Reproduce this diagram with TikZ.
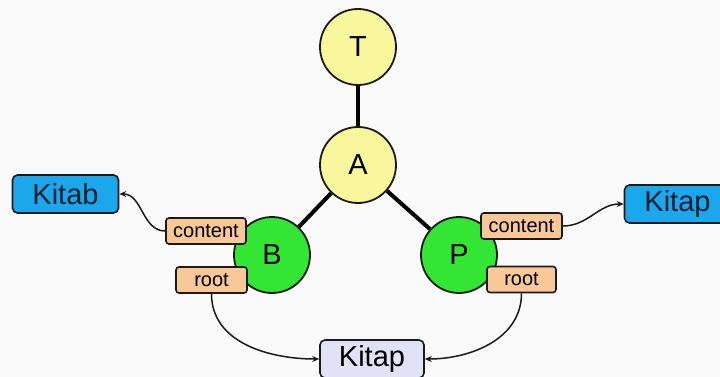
\documentclass[tikz,border=0pt]{standalone}
\usepackage{fontspec}
\setmainfont{Liberation Sans}
\usetikzlibrary{arrows.meta,backgrounds}
\definecolor{cyel}{HTML}{F9F79C}
\definecolor{cgrn}{HTML}{33E633}
\definecolor{corg}{HTML}{F8C898}
\definecolor{cblu}{HTML}{1AA7EC}
\definecolor{clav}{HTML}{E2E2F6}
\definecolor{cline}{HTML}{1A1A1A}
\definecolor{cnavy}{HTML}{0E1E30}
\tikzset{
  vert/.style={circle, draw=cline, line width=1.8pt, minimum size=76pt, inner sep=0pt, font=\fontsize{29}{29}\selectfont},
  yv/.style={vert, fill=cyel},
  gv/.style={vert, fill=cgrn},
  tag/.style={rectangle, rounded corners=3pt, draw=cline, line width=1.6pt, fill=corg, inner sep=0pt, minimum height=26pt, font=\fontsize{20}{20}\selectfont},
  word/.style={rectangle, rounded corners=5pt, draw=cline, line width=1.6pt, inner sep=0pt, minimum width=106pt, minimum height=38pt, font=\fontsize{29}{29}\selectfont},
  tree/.style={line width=4pt, draw=black},
  ptr/.style={line width=1.5pt, draw=cline, -{Stealth[length=7pt,width=6pt]}}
}
\begin{document}
\begin{tikzpicture}[x=1pt,y=-1pt]
\useasboundingbox (0,0) rectangle (720,377);
\clip (0,0) rectangle (720,377);
\node[yv] (T) at (358,47) {T};
\node[yv] (A) at (358,165) {A};
\node[gv] (B) at (272,255) {B};
\node[gv] (P) at (459,255) {P};
\node[tag, minimum width=80pt] (cL) at (206,231) {content};
\node[tag, minimum width=71pt] (rL) at (211.5,280) {root};
\node[tag, minimum width=81pt] (cR) at (521.5,226) {content};
\node[tag, minimum width=69pt] (rR) at (521.5,279.5) {root};
\node[word, fill=cblu, text=cnavy] (kL) at (65.5,194) {Kitab};
\node[word, fill=cblu, text=cnavy] (kR) at (677.5,204) {Kitap};
\node[word, fill=clav, text=black, minimum width=104pt] (kB) at (372,359) {Kitap};
\begin{scope}[on background layer]
\fill[white!98!black] (0,0) rectangle (720,377);
\draw[tree] (T) -- (A);
\draw[tree] (A) -- (B);
\draw[tree] (A) -- (P);
\end{scope}
\draw[ptr] (cL.west) to[out=180,in=0] (kL.east);
\draw[ptr] (cR.east) to[out=0,in=180] (kR.west);
\draw[ptr] (rL.south) to[out=-90,in=180] (kB.west);
\draw[ptr] (rR.south) to[out=-90,in=0] (kB.east);
\end{tikzpicture}
\end{document}
